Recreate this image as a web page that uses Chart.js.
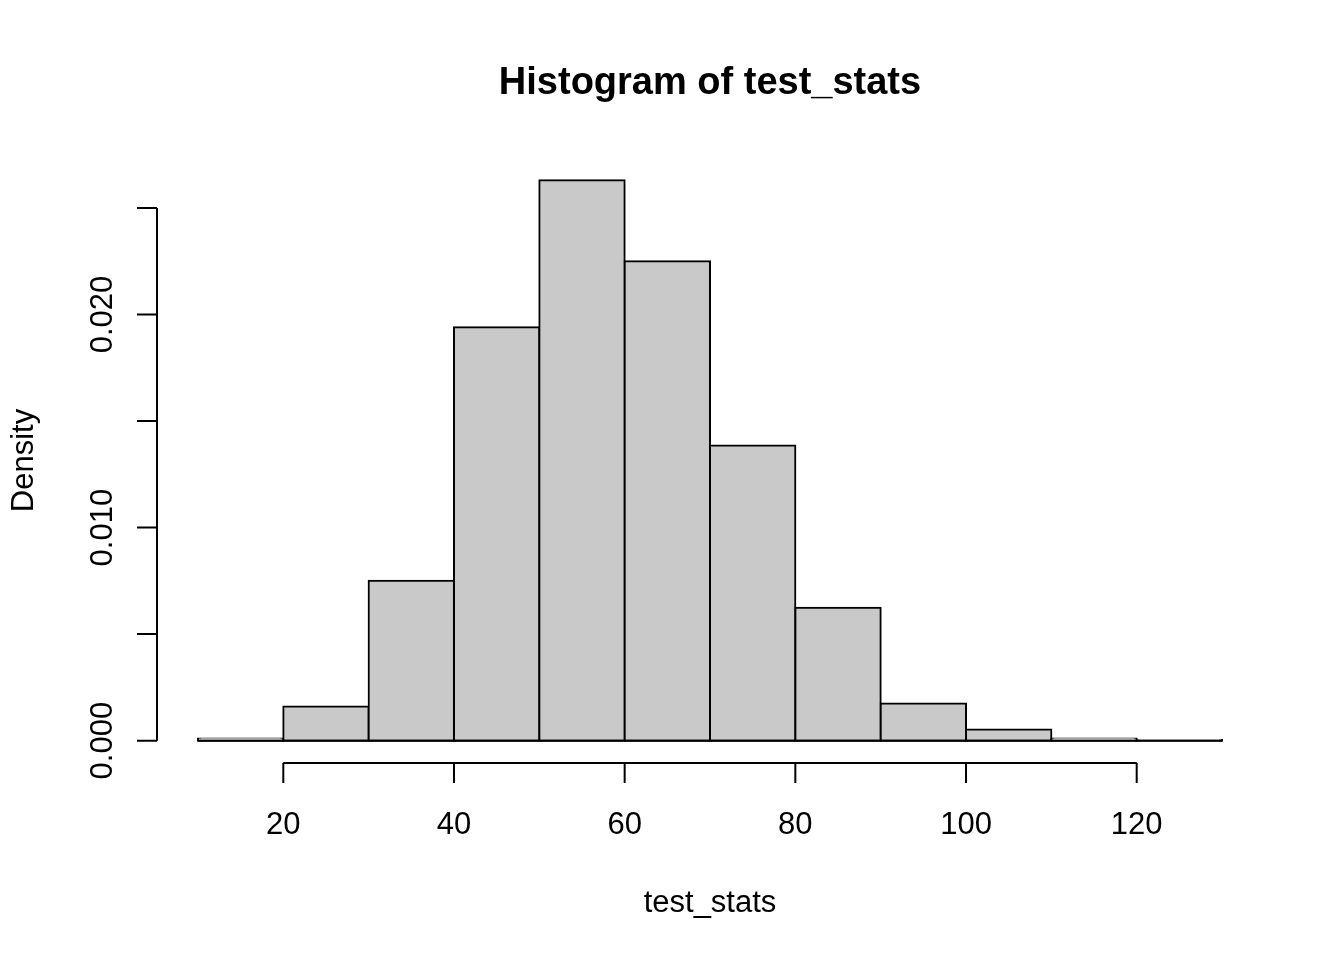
<!DOCTYPE html>
<html>
<head>
<meta charset="utf-8">
<title>Histogram of test_stats</title>
<script src="https://cdn.jsdelivr.net/npm/chart.js@4.4.1/dist/chart.umd.min.js"></script>
<style>
    html, body { margin: 0; padding: 0; background: #ffffff; }
    #chart { display: block; }
</style>
</head>
<body>
<canvas id="chart" width="1344" height="960" style="width:1344px;height:960px"></canvas>
<script>
// bins (mid points, width 10) and densities
const binMids = [15, 25, 35, 45, 55, 65, 75, 85, 95, 105, 115, 125];
const binWidth = 10;
const densities = [0.0001, 0.0016, 0.0075, 0.0194, 0.0263, 0.0225, 0.01385, 0.00624, 0.00174, 0.00052, 0.0001, 0.00003];

// axis ticks
const xTicks = [20, 40, 60, 80, 100, 120];
const yTicks = [0, 0.005, 0.010, 0.015, 0.020, 0.025];
const yTickLabels = ['0.000', '', '0.010', '', '0.020', ''];

const FONT = '"Liberation Sans", Arial, Helvetica, sans-serif';

// R style detached axes, title and labels
const rAxes = {
    id: 'rAxes',
    afterDatasetsDraw: function(chart) {
        // bottom edges of the bars (R draws every rect outline, even flat ones)
        const ctx = chart.ctx;
        const xs = chart.scales.x;
        const ys = chart.scales.y;
        ctx.save();
        ctx.strokeStyle = '#000000';
        ctx.lineWidth = 2;
        ctx.beginPath();
        ctx.moveTo(xs.getPixelForValue(binMids[0] - binWidth / 2), ys.getPixelForValue(0));
        ctx.lineTo(xs.getPixelForValue(binMids[binMids.length - 1] + binWidth / 2), ys.getPixelForValue(0));
        ctx.stroke();
        ctx.restore();
    },
    afterDraw: function(chart) {
        const ctx = chart.ctx;
        const area = chart.chartArea;
        const xs = chart.scales.x;
        const ys = chart.scales.y;

        ctx.save();
        ctx.strokeStyle = '#000000';
        ctx.fillStyle = '#000000';
        ctx.lineWidth = 2;
        ctx.lineCap = 'butt';

        // x axis
        const xAxisY = area.bottom;
        ctx.beginPath();
        ctx.moveTo(xs.getPixelForValue(xTicks[0]), xAxisY);
        ctx.lineTo(xs.getPixelForValue(xTicks[xTicks.length - 1]), xAxisY);
        xTicks.forEach(v => {
            const px = xs.getPixelForValue(v);
            ctx.moveTo(px, xAxisY);
            ctx.lineTo(px, xAxisY + 20);
        });
        ctx.stroke();

        ctx.font = '31px ' + FONT;
        ctx.textAlign = 'center';
        ctx.textBaseline = 'alphabetic';
        xTicks.forEach(v => {
            ctx.fillText(String(v), xs.getPixelForValue(v), xAxisY + 71);
        });

        // y axis
        const yAxisX = area.left;
        ctx.beginPath();
        ctx.moveTo(yAxisX, ys.getPixelForValue(yTicks[0]));
        ctx.lineTo(yAxisX, ys.getPixelForValue(yTicks[yTicks.length - 1]));
        yTicks.forEach(v => {
            const py = ys.getPixelForValue(v);
            ctx.moveTo(yAxisX, py);
            ctx.lineTo(yAxisX - 20, py);
        });
        ctx.stroke();

        yTicks.forEach((v, i) => {
            if (!yTickLabels[i]) return;
            ctx.save();
            ctx.translate(yAxisX - 45, ys.getPixelForValue(v));
            ctx.rotate(-Math.PI / 2);
            ctx.fillText(yTickLabels[i], 0, 0);
            ctx.restore();
        });

        // axis titles
        const midX = (area.left + area.right) / 2;
        const midY = (area.top + area.bottom) / 2;
        ctx.fillText('test_stats', midX, 912);

        ctx.save();
        ctx.translate(33, midY);
        ctx.rotate(-Math.PI / 2);
        ctx.fillText('Density', 0, 0);
        ctx.restore();

        // main title
        ctx.font = 'bold 38px ' + FONT;
        ctx.fillText('Histogram of test_stats', midX, 94);

        ctx.restore();
    }
};

const ctx = document.getElementById('chart').getContext('2d');

new Chart(ctx, {
    type: 'bar',
    data: {
        datasets: [{
            data: binMids.map((m, i) => ({ x: m, y: densities[i] })),
            backgroundColor: '#c9c9c9',
            borderColor: '#000000',
            borderWidth: 2,
            borderSkipped: false,
            inflateAmount: 1,
            barPercentage: 1,
            categoryPercentage: 1
        }]
    },
    options: {
        responsive: false,
        animation: false,
        devicePixelRatio: 1,
        layout: {
            padding: { left: 157, right: 81, top: 158, bottom: 197 }
        },
        plugins: {
            legend: { display: false },
            title: { display: false },
            tooltip: { enabled: false }
        },
        scales: {
            x: {
                type: 'linear',
                min: 5.2,
                max: 134.8,
                offset: false,
                display: false
            },
            y: {
                min: -0.00105,
                max: 0.02735,
                display: false
            }
        }
    },
    plugins: [rAxes]
});
</script>
</body>
</html>
